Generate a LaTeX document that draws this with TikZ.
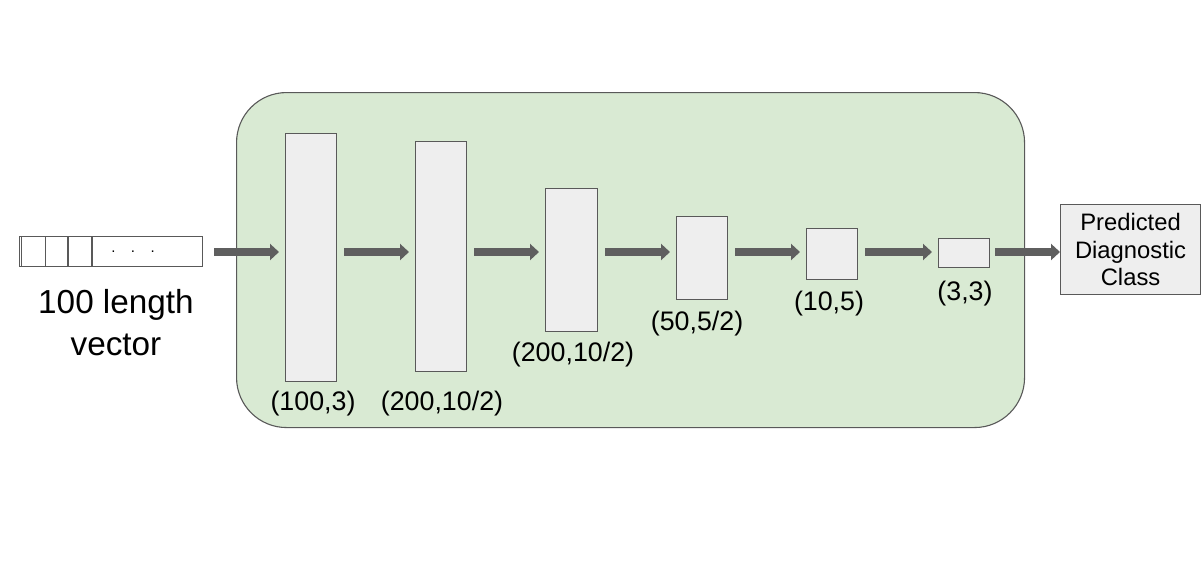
\documentclass[tikz,border=0pt]{standalone}
\usepackage{fontspec}
\setmainfont{Liberation Sans}
\usetikzlibrary{arrows.meta,calc}
\definecolor{panelgreen}{HTML}{D9EAD3}
\definecolor{edgegray}{HTML}{595959}
\definecolor{boxgray}{HTML}{EEEEEE}
\definecolor{arrowgray}{HTML}{5F5F5F}
\tikzset{
  layerbox/.style={draw=edgegray, fill=boxgray, line width=1.1pt, inner sep=0pt, anchor=north west},
  flowarrow/.style={draw=arrowgray, line width=8pt, -{Triangle[length=9pt,width=16pt,fill=arrowgray]}},
  dimlabel/.style={font=\fontsize{26.8}{30}\selectfont, inner sep=0pt},
}
\begin{document}
\begin{tikzpicture}[x=1pt,y=-1pt]
\useasboundingbox (0,0) rectangle (1201,578);
% panel
\node[draw=edgegray, fill=panelgreen, line width=1.1pt, rounded corners=50pt, inner sep=0pt,
      minimum width=788pt, minimum height=335pt, anchor=north west] (panel) at (236,92) {};
% input vector
\node[draw=edgegray, line width=1.1pt, inner sep=0pt, minimum width=183pt, minimum height=30pt,
      anchor=north west] (vec) at (19,236) {};
\draw[edgegray, line width=1.1pt] ($(vec.north west)+(2.5,0)$) -- ($(vec.south west)+(2.5,0)$);
\draw[edgegray, line width=1.1pt] ($(vec.north west)+(26.5,0)$) -- ($(vec.south west)+(26.5,0)$);
\draw[edgegray, line width=1.1pt] ($(vec.north west)+(49,0)$) -- ($(vec.south west)+(49,0)$);
\draw[edgegray, line width=1.1pt] ($(vec.north west)+(73,0)$) -- ($(vec.south west)+(73,0)$);
\node[font=\fontsize{15}{15}\selectfont, inner sep=0pt, anchor=base] (dots) at (133,252) {.\hspace{15.5pt}.\hspace{15.5pt}.};
\node[align=center, font=\fontsize{33.3}{42}\selectfont, inner sep=0pt] (veclabel) at (116,323) {100 length\\vector};
% layers
\node[layerbox, minimum width=51pt, minimum height=248pt] (b1) at (285,133) {};
\node[layerbox, minimum width=51pt, minimum height=230pt] (b2) at (415,141) {};
\node[layerbox, minimum width=52pt, minimum height=143pt] (b3) at (545,188) {};
\node[layerbox, minimum width=51pt, minimum height=83pt] (b4) at (676,216) {};
\node[layerbox, minimum width=51pt, minimum height=51pt] (b5) at (806,228) {};
\node[layerbox, minimum width=51pt, minimum height=29pt] (b6) at (938,238) {};
% output
\node[draw=edgegray, fill=boxgray, line width=1.1pt, inner sep=0pt, minimum width=140pt, minimum height=90pt,
      anchor=north west] (outbox) at (1060,204) {};
\node[align=center, font=\fontsize{23.8}{27.5}\selectfont, inner sep=0pt] (outtext) at (outbox.center) {Predicted\\Diagnostic\\Class};
% labels
\node[dimlabel] (l1) at (313,404) {(100,3)};
\node[dimlabel] (l2) at (442,404) {(200,10/2)};
\node[dimlabel] (l3) at (573,355) {(200,10/2)};
\node[dimlabel] (l4) at (697,324) {(50,5/2)};
\node[dimlabel] (l5) at (829,304) {(10,5)};
\node[dimlabel] (l6) at (965,294) {(3,3)};
% arrows
\coordinate (ay) at (0,252);
\draw[flowarrow] ($(vec.east|-ay)+(11,0)$) -- ($(b1.west|-ay)+(-6,0)$);
\draw[flowarrow] ($(b1.east|-ay)+(7,0)$) -- ($(b2.west|-ay)+(-6,0)$);
\draw[flowarrow] ($(b2.east|-ay)+(7,0)$) -- ($(b3.west|-ay)+(-6,0)$);
\draw[flowarrow] ($(b3.east|-ay)+(7,0)$) -- ($(b4.west|-ay)+(-6,0)$);
\draw[flowarrow] ($(b4.east|-ay)+(7,0)$) -- ($(b5.west|-ay)+(-6,0)$);
\draw[flowarrow] ($(b5.east|-ay)+(7,0)$) -- ($(b6.west|-ay)+(-6,0)$);
\draw[flowarrow] ($(b6.east|-ay)+(5,0)$) -- (outbox.west|-ay);
\end{tikzpicture}
\end{document}
